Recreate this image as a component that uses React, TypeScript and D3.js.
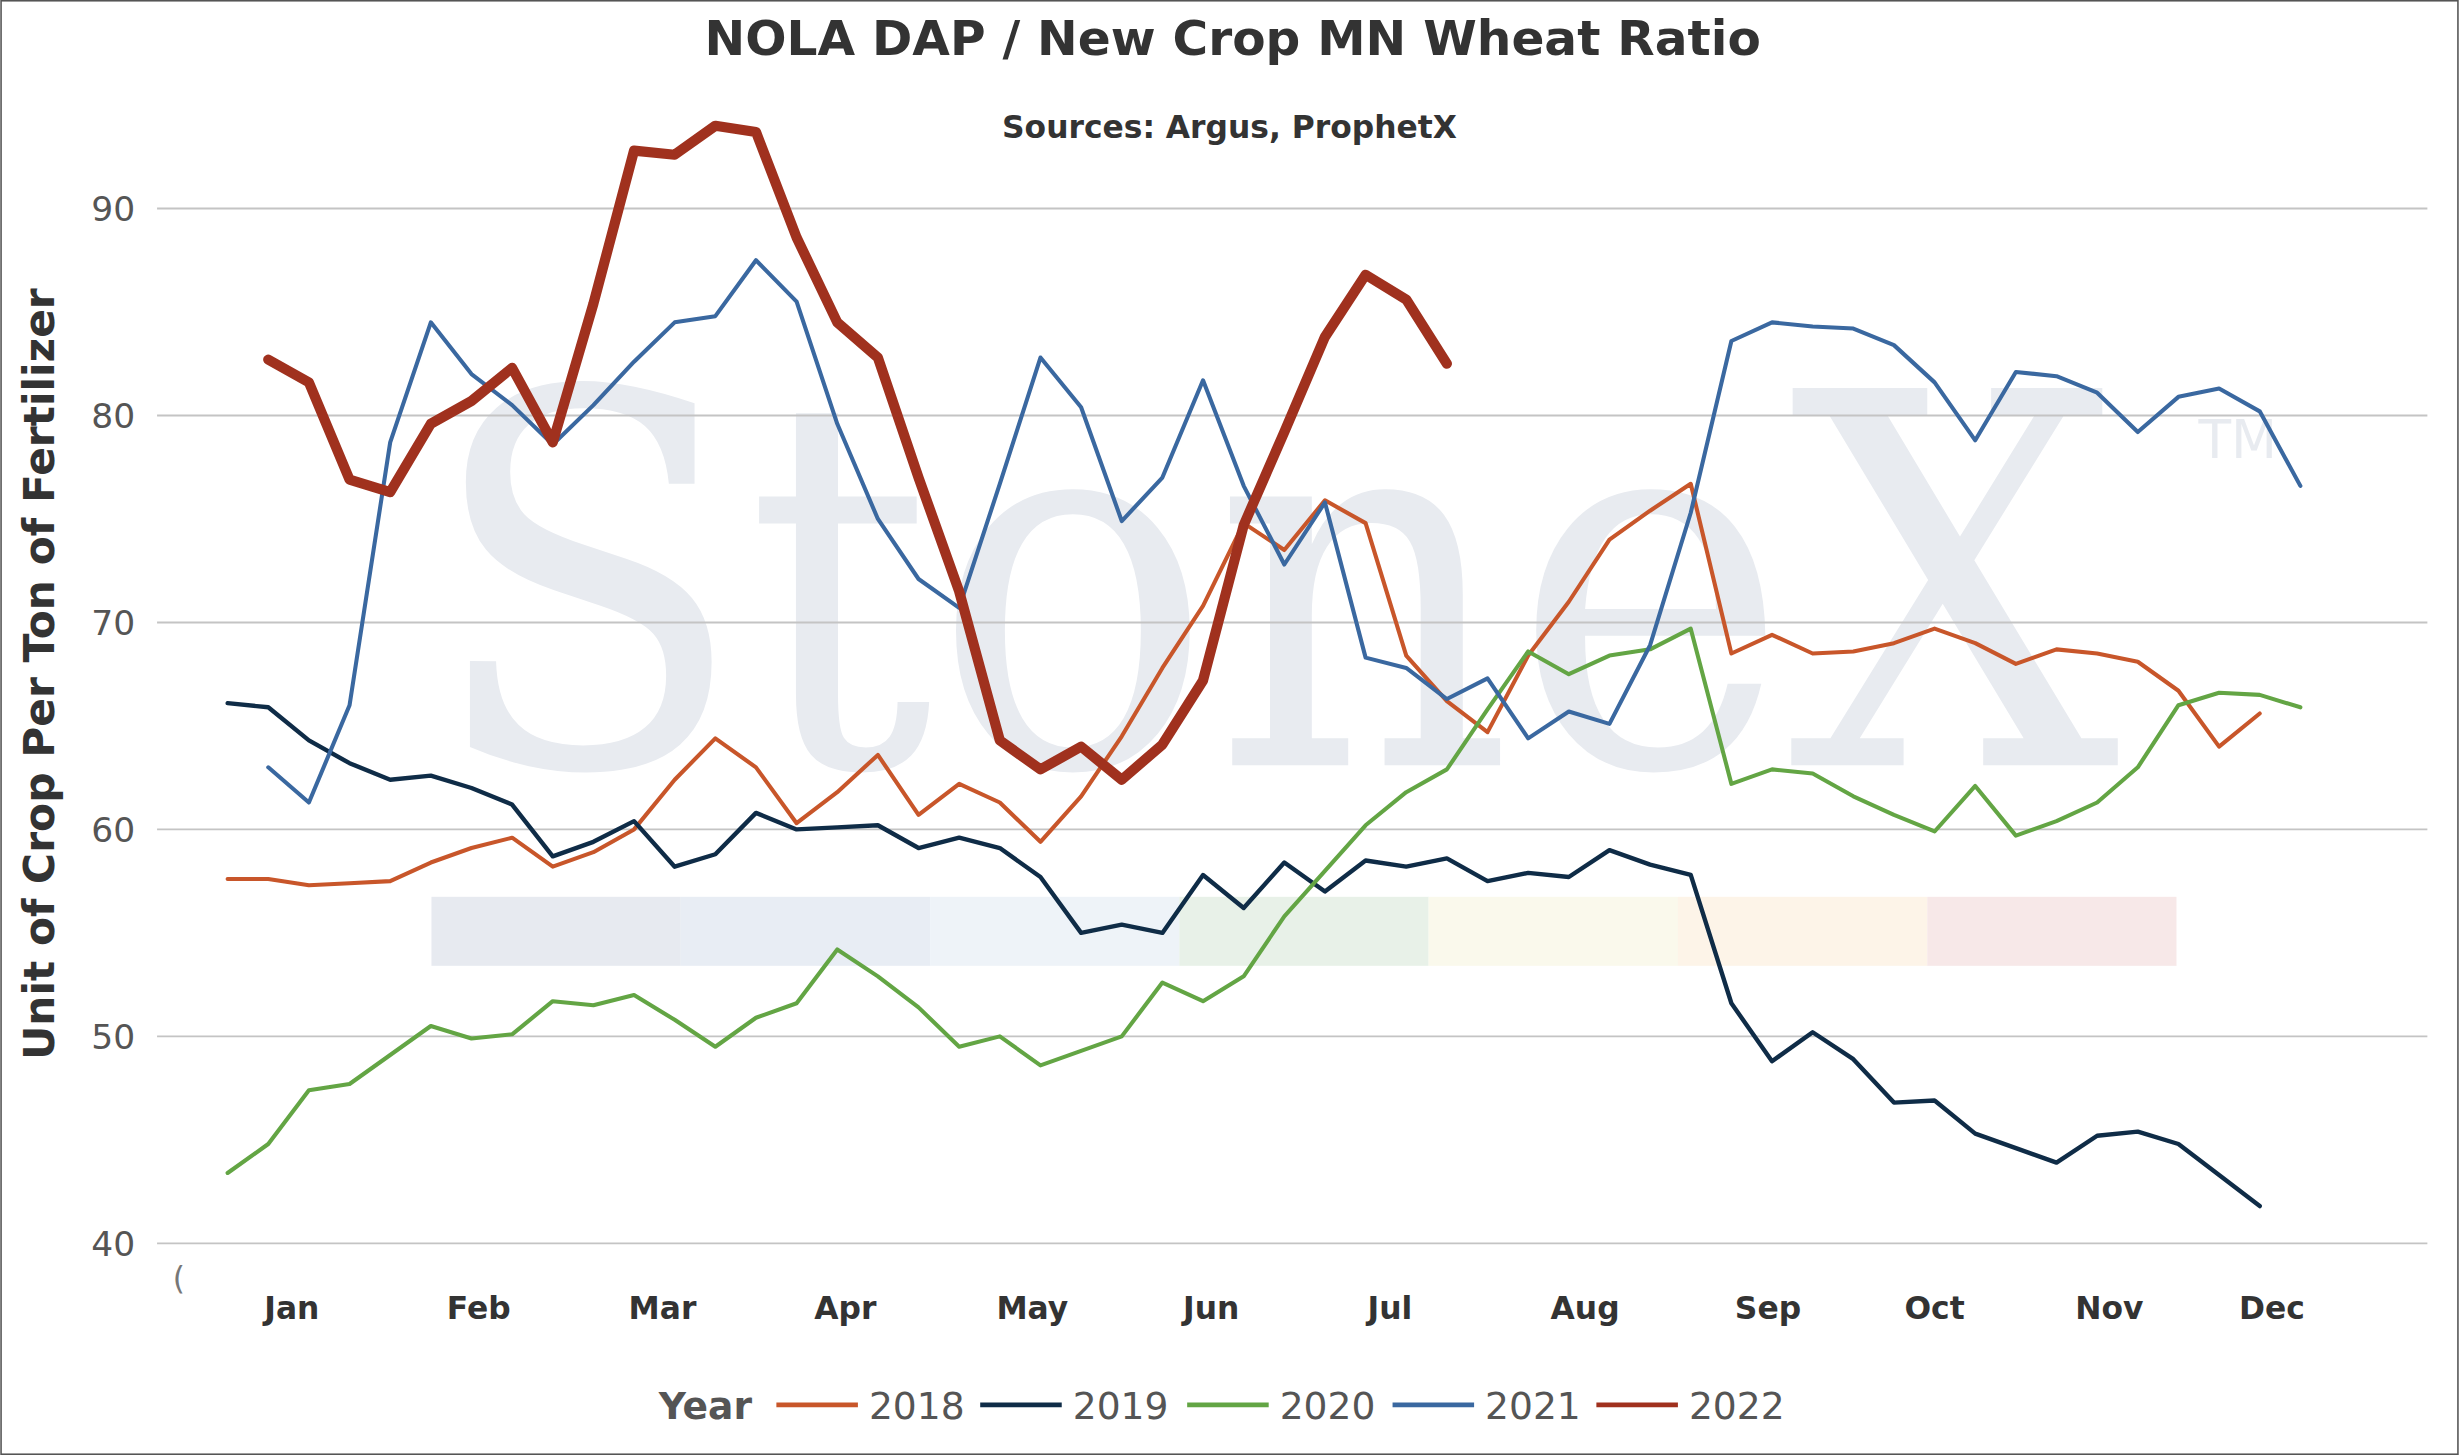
import React from "react";
import * as d3 from "d3";

const months = ["Jan","Feb","Mar","Apr","May","Jun","Jul","Aug","Sep","Oct","Nov","Dec"];
const monthPos = [1.58,6.18,10.7,15.2,19.8,24.2,28.6,33.4,37.9,42.0,46.3,50.3];
const yTicks = [40,50,60,70,80,90];

const s2018 = [57.6,57.6,57.3,57.4,57.5,58.4,59.1,59.6,58.2,58.9,60.0,62.4,64.4,63.0,60.3,61.8,63.6,60.7,62.2,61.3,59.4,61.6,64.5,67.8,70.8,74.8,73.5,75.9,74.8,68.4,66.2,64.7,68.4,71.0,74.0,75.4,76.7,68.5,69.4,68.5,68.6,69.0,69.7,69.0,68.0,68.7,68.5,68.1,66.7,64.0,65.6];
const s2019 = [66.1,65.9,64.3,63.2,62.4,62.6,62.0,61.2,58.7,59.4,60.4,58.2,58.8,60.8,60.0,60.1,60.2,59.1,59.6,59.1,57.7,55.0,55.4,55.0,57.8,56.2,58.4,57.0,58.5,58.2,58.6,57.5,57.9,57.7,59.0,58.3,57.8,51.6,48.8,50.2,48.9,46.8,46.9,45.3,44.6,43.9,45.2,45.4,44.8,43.3,41.8];
const s2020 = [43.4,44.8,47.4,47.7,49.1,50.5,49.9,50.1,51.7,51.5,52.0,50.8,49.5,50.9,51.6,54.2,52.9,51.4,49.5,50.0,48.6,49.3,50.0,52.6,51.7,52.9,55.8,58.0,60.2,61.8,62.9,65.8,68.6,67.5,68.4,68.7,69.7,62.2,62.9,62.7,61.6,60.7,59.9,62.1,59.7,60.4,61.3,63.0,66.0,66.6,66.5,65.9];
const s2021 = [63.0,61.3,66.0,78.7,84.5,82.0,80.5,78.6,80.5,82.6,84.5,84.8,87.5,85.5,79.6,75.0,72.1,70.7,76.7,82.8,80.4,74.9,77.0,81.7,76.6,72.8,75.8,68.3,67.8,66.3,67.3,64.4,65.7,65.1,68.9,75.3,83.6,84.5,84.3,84.2,83.4,81.6,78.8,82.1,81.9,81.1,79.2,80.9,81.3,80.2,76.6];
const s2022 = [82.7,81.6,76.9,76.3,79.6,80.7,82.3,78.7,85.4,92.8,92.6,94.0,93.7,88.6,84.5,82.8,77.0,71.5,64.3,62.9,64.0,62.4,64.1,67.2,74.7,79.2,83.8,86.8,85.6,82.5];

const series = [
  { name: "2018", values: s2018, start: 0, color: "#c8562a", width: 2.6 },
  { name: "2019", values: s2019, start: 0, color: "#0f2c47", width: 2.8 },
  { name: "2020", values: s2020, start: 0, color: "#63a544", width: 2.6 },
  { name: "2021", values: s2021, start: 1, color: "#3a68a0", width: 2.6 },
  { name: "2022", values: s2022, start: 1, color: "#a0311e", width: 6.5 },
];
const bandColors = ["#e4e8ee","#e6ebf3","#ecf2f7","#e5f0e6","#faf8ea","#fdf3e6","#f6e6e6"];

export default function App() {
  const x = d3.scaleLinear().domain([0, 51]).range([145, 1467]);
  const y = d3.scaleLinear().domain([40, 90]).range([793, 133]);
  const font = "'DejaVu Sans', Verdana, sans-serif";
  const legendX = [495, 625, 757, 888, 1018];
  return (
    <svg width={2459} height={1455} viewBox="0 0 1568 928" style={{ position: "absolute", left: 0, top: 0 }} fontFamily={font}>
      <rect x={0.5} y={0.5} width={1567} height={927} fill="#fff" stroke="#555" />
      <text x={272} y={488} fontFamily="'DejaVu Serif', 'Liberation Serif', serif" fontSize={330} fill="#e8ebf0" textLength={1080} lengthAdjust="spacingAndGlyphs">StoneX</text>
      <text x={1402} y={292} fontSize={34} fill="#e8ebf0">TM</text>
      {bandColors.map((c, i) => (
        <rect key={i} x={275 + i * 159} y={572} width={159} height={44} fill={c} opacity={0.9} />
      ))}
      {yTicks.map(t => (
        <g key={t}>
          <line x1={100} x2={1548} y1={y(t)} y2={y(t)} stroke="#c4c4c4" strokeWidth={1.2} />
          <text x={86} y={y(t) + 8} textAnchor="end" fontSize={22} fill="#555">{t}</text>
        </g>
      ))}
      <text x={110} y={822} fontSize={20} fill="#777">(</text>
      {months.map((m, i) => (
        <text key={m} x={x(monthPos[i])} y={841} textAnchor="middle" fontSize={20} fontWeight="bold" fill="#333">{m}</text>
      ))}
      {series.map(sr => {
        const l = d3.line<number>().x((_, i) => x(i + sr.start)).y(v => y(v));
        return <path key={sr.name} d={l(sr.values) || ""} fill="none" stroke={sr.color} strokeWidth={sr.width} strokeLinejoin="round" strokeLinecap="round" />;
      })}
      <text x={786} y={35} textAnchor="middle" fontSize={31} fontWeight="bold" fill="#333">NOLA DAP / New Crop MN Wheat Ratio</text>
      <text x={784} y={88} textAnchor="middle" fontSize={20} fontWeight="bold" fill="#333">Sources: Argus, ProphetX</text>
      <text transform="translate(34,430) rotate(-90)" textAnchor="middle" fontSize={27} fontWeight="bold" fill="#333">Unit of Crop Per Ton of Fertilizer</text>
      <text x={420} y={905} fontSize={24} fontWeight="bold" fill="#555">Year</text>
      {series.map((sr, i) => (
        <g key={sr.name}>
          <line x1={legendX[i]} x2={legendX[i] + 52} y1={896} y2={896} stroke={sr.color} strokeWidth={3} />
          <text x={legendX[i] + 59} y={905} fontSize={24} fill="#555">{sr.name}</text>
        </g>
      ))}
    </svg>
  );
}
